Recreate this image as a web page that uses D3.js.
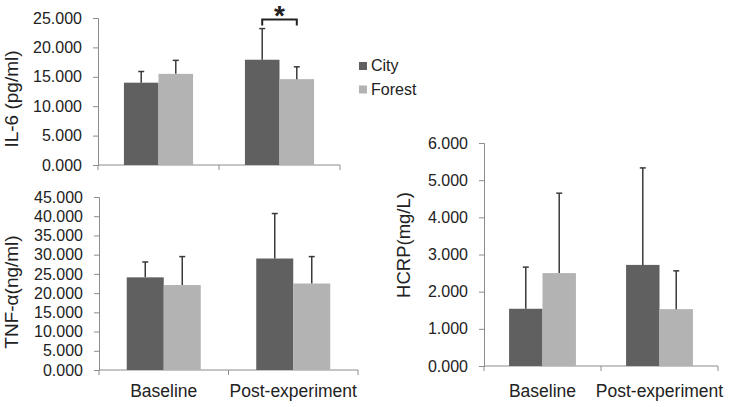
<!DOCTYPE html>
<html><head><meta charset="utf-8">
<script src="https://cdn.jsdelivr.net/npm/d3@7"></script>
<style>body{margin:0;background:#fff}text{font-family:"Liberation Sans",Arial,sans-serif;fill:#222}</style>
</head><body>
<svg id="c" width="729" height="407"></svg>
<script>
const categories = ["Baseline", "Post-experiment"];
const series = ["City", "Forest"];
const colors = ["#606060", "#b3b3b3"];
// IL-6 (pg/ml)
const il6Mean = [[14.0, 15.5], [17.9, 14.6]];
const il6Err  = [[1.9, 2.3], [5.3, 2.1]];
const il6Ticks = [0, 5, 10, 15, 20, 25];
// TNF-α (ng/ml)
const tnfMean = [[24.1, 22.1], [29.0, 22.5]];
const tnfErr  = [[4.0, 7.4], [11.7, 7.0]];
const tnfTicks = [0, 5, 10, 15, 20, 25, 30, 35, 40, 45];
// HCRP (mg/L)
const hcrpMean = [[1.54, 2.50], [2.72, 1.53]];
const hcrpErr  = [[1.12, 2.15], [2.61, 1.03]];
const hcrpTicks = [0, 1, 2, 3, 4, 5, 6];

const svg = d3.select("#c");
const fmt = d3.format(".3f");
const axisColor = "#8c8c8c";

function panel(opt) {
  const x = d3.scaleBand().domain(categories).range([opt.x0, opt.x1]).padding(0);
  const y = d3.scaleLinear().domain([0, opt.max]).range([opt.y0, opt.y1]);
  const inner = d3.scaleBand().domain(series).range([0, x.bandwidth()]).paddingInner(0).paddingOuter(0.75);
  const g = svg.append("g");
  // y axis
  const ya = g.append("g").attr("transform", `translate(${opt.x0},0)`)
    .call(d3.axisLeft(y).tickValues(opt.ticks).tickFormat(fmt).tickSize(5).tickPadding(11));
  ya.select(".domain").attr("stroke", axisColor);
  ya.selectAll(".tick line").attr("stroke", axisColor);
  ya.selectAll(".tick text").attr("font-size", 16).attr("fill", "#222")
    .attr("font-family", '"Liberation Sans",Arial,sans-serif');
  // x axis baseline with boundary ticks
  g.append("line").attr("x1", opt.x0).attr("x2", opt.x1).attr("y1", opt.y0).attr("y2", opt.y0).attr("stroke", axisColor);
  const bounds = categories.map(c => x(c)).concat([x(categories[categories.length - 1]) + x.bandwidth()]);
  g.selectAll(".bt").data(bounds).enter().append("line")
    .attr("x1", d => d).attr("x2", d => d).attr("y1", opt.y0).attr("y2", opt.y0 + 5).attr("stroke", axisColor);
  // bars
  categories.forEach((c, ci) => {
    series.forEach((s, si) => {
      const bx = x(c) + inner(s);
      const v = opt.mean[ci][si];
      g.append("rect").attr("x", bx).attr("width", inner.bandwidth())
        .attr("y", y(v)).attr("height", y(0) - y(v)).attr("fill", colors[si]);
      const cx = bx + inner.bandwidth() / 2;
      const top = y(v + opt.err[ci][si]);
      g.append("line").attr("x1", cx).attr("x2", cx).attr("y1", y(v)).attr("y2", top)
        .attr("stroke", "#3a3a3a").attr("stroke-width", 1.5);
      g.append("line").attr("x1", cx - 3).attr("x2", cx + 3).attr("y1", top).attr("y2", top)
        .attr("stroke", "#3a3a3a").attr("stroke-width", 1.5);
    });
    if (opt.labels) {
      g.append("text").attr("x", x(c) + x.bandwidth() / 2).attr("y", opt.y0 + opt.ly)
        .attr("text-anchor", "middle").attr("font-size", 17.5).text(c);
    }
  });
  // y title
  g.append("text").attr("transform", `translate(${opt.tx},${opt.ty}) rotate(-90)`)
    .attr("text-anchor", "middle").attr("font-size", opt.tf).text(opt.title);
  return {x, y, inner};
}

const p1 = panel({x0: 98, x1: 340, y0: 165, y1: 18, max: 25, ticks: il6Ticks, mean: il6Mean, err: il6Err, title: "IL-6 (pg/ml)", tx: 18, ty: 99, tf: 19, labels: false});
panel({x0: 99, x1: 358, y0: 370, y1: 197, max: 45, ticks: tnfTicks, mean: tnfMean, err: tnfErr, title: "TNF-α(ng/ml)", tx: 18, ty: 292, tf: 19, labels: true, ly: 27});
panel({x0: 484, x1: 718, y0: 366, y1: 143, max: 6, ticks: hcrpTicks, mean: hcrpMean, err: hcrpErr, title: "HCRP(mg/L)", tx: 410, ty: 245, tf: 18.5, labels: true, ly: 31});

// significance bracket on IL-6 post-experiment
{
  const c = categories[1];
  const xa = p1.x(c) + p1.inner(series[0]) + p1.inner.bandwidth() / 2;
  const xb = p1.x(c) + p1.inner(series[1]) + p1.inner.bandwidth() / 2;
  const yb = 19.5;
  svg.append("path").attr("d", `M${xa},${yb + 6}V${yb}H${xb}V${yb + 6}`)
    .attr("fill", "none").attr("stroke", "#222").attr("stroke-width", 2);
  svg.append("text").attr("x", (xa + xb) / 2).attr("y", 25).attr("text-anchor", "middle")
    .attr("font-size", 28).attr("font-weight", "bold").text("*");
}

// legend
const leg = svg.append("g");
series.forEach((s, i) => {
  leg.append("rect").attr("x", 359).attr("y", 62 + i * 23.5).attr("width", 8).attr("height", 8).attr("fill", colors[i]);
  leg.append("text").attr("x", 371).attr("y", 71 + i * 23.5).attr("font-size", 16).text(s);
});
</script>
</body></html>
